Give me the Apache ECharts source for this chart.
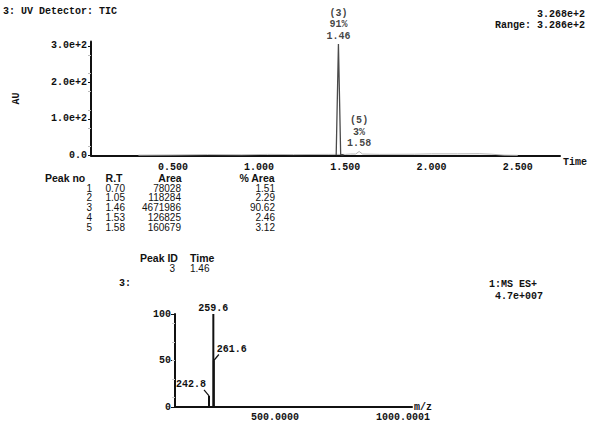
<!DOCTYPE html>
<html>
<head>
<meta charset="utf-8">
<script src="https://cdn.jsdelivr.net/npm/echarts@6/dist/echarts.min.js"></script>
<style>
  html, body { margin: 0; padding: 0; background: #fff; }
  #chart { width: 593px; height: 427px; }
</style>
</head>
<body>
<div id="chart"></div>
<script>
// ---- UV detector trace (TIC): retention time in min, response in AU ----
const traceTime = [0.30, 0.50, 0.70, 0.90, 1.05, 1.20, 1.40, 1.50, 1.53, 1.56, 1.58, 1.60, 1.70, 1.90, 2.00, 2.15, 2.28, 2.35, 2.42, 2.50];
const traceAU   = [1.0,  1.5,  2.5,  2.0,  3.0,  2.5,  3.0,  3.0,  4.0,  4.0,  11,   4.0,  3.0,  3.5,  4.5,  4.5,  5.0,  3.5,  1.0,  0.5];

// main peak outline around its apex
const mainPeakTime = [1.447, 1.46, 1.473, 1.49];
const mainPeakAU   = [1, 305, 2, 2];

// ---- integration table ----
const peakNo  = [1, 2, 3, 4, 5];
const peakRT  = ['0.70', '1.05', '1.46', '1.53', '1.58'];
const peakArea = [78028, 118284, 4671986, 126825, 160679];
const peakPct = ['1.51', '2.29', '90.62', '2.46', '3.12'];

// peaks annotated on the trace (index into the table)
const labelledPeaks = [2, 4];

// axis ticks
const uvTimeTicks = [0.5, 1.0, 1.5, 2.0, 2.5];
const uvAUTicks   = [0, 100, 200, 300];
const uvAUTickText = ['0.0', '1.0e+2', '2.0e+2', '3.0e+2'];

// ---- mass spectrum at peak 3 ----
const msMz  = [242.8, 259.6, 261.6];
const msRel = [12, 100, 50];
const msMzTicks = [500, 1000.0001];
const msMzTickText = ['500.0000', '1000.0001'];
const msRelTicks = [0, 50, 100];

const mono = '"Liberation Mono", "DejaVu Sans Mono", monospace';
const sans = '"Liberation Sans", Arial, sans-serif';
const ink = '#111';

const monoText = { fontFamily: mono, fontSize: 10, fontWeight: 'bold', color: ink };

// apex points carrying the peak annotations
const apexData = labelledPeaks.map(i => {
  const t = parseFloat(peakRT[i]);
  let au;
  const mi = mainPeakTime.indexOf(t);
  if (mi >= 0) au = mainPeakAU[mi];
  else au = traceAU[traceTime.indexOf(t)];
  return {
    value: [t, au],
    name: '(' + peakNo[i] + ')\n' + Math.round(parseFloat(peakPct[i])) + '%\n' + peakRT[i]
  };
});

// how each spectrum label sits relative to its stick top (leader = short guide stroke)
const msLabelStyle = {
  259.6: { side: 'top' },
  261.6: { side: 'right', lead: [5, -6], gap: [-2, -5] },
  242.8: { side: 'left', lead: [-5, -6], gap: [2, -5] }
};

const chart = echarts.init(document.getElementById('chart'), null, { renderer: 'svg' });

// table text elements
const tableEls = [];
const headY = 177.5, rowGap = 9.8, firstRowY = 188;
const cols = [
  { head: 'Peak no', headX: 45, headAlign: 'left', x: 92, vals: peakNo.map(String) },
  { head: 'R.T', headX: 114, headAlign: 'center', x: 125, vals: peakRT },
  { head: 'Area', headX: 170, headAlign: 'center', x: 181, vals: peakArea.map(String) },
  { head: '% Area', headX: 257, headAlign: 'center', x: 275, vals: peakPct }
];
cols.forEach(c => {
  tableEls.push({ type: 'text', x: c.headX, y: headY,
    style: { text: c.head, font: 'bold 10.5px ' + sans, fill: ink, align: c.headAlign, verticalAlign: 'middle' } });
  c.vals.forEach((v, r) => {
    tableEls.push({ type: 'text', x: c.x, y: firstRowY + r * rowGap,
      style: { text: v, font: '10px ' + sans, fill: ink, align: 'right', verticalAlign: 'middle' } });
  });
});

const idPeak = 2;
const textEls = [
  { type: 'text', x: 3, y: 11, style: { text: '3: UV Detector: TIC', font: 'bold 10px ' + mono, fill: ink, verticalAlign: 'middle' } },
  { type: 'text', x: 585, y: 14, style: { text: '3.268e+2', font: 'bold 10px ' + mono, fill: ink, align: 'right', verticalAlign: 'middle' } },
  { type: 'text', x: 585, y: 25, style: { text: 'Range: 3.286e+2', font: 'bold 10px ' + mono, fill: ink, align: 'right', verticalAlign: 'middle' } },
  { type: 'text', x: 140, y: 258, style: { text: 'Peak ID', font: 'bold 10.5px ' + sans, fill: ink, verticalAlign: 'middle' } },
  { type: 'text', x: 190, y: 258, style: { text: 'Time', font: 'bold 10.5px ' + sans, fill: ink, verticalAlign: 'middle' } },
  { type: 'text', x: 175, y: 268, style: { text: String(peakNo[idPeak]), font: '10px ' + sans, fill: ink, align: 'right', verticalAlign: 'middle' } },
  { type: 'text', x: 190, y: 268, style: { text: peakRT[idPeak], font: '10px ' + sans, fill: ink, verticalAlign: 'middle' } },
  { type: 'text', x: 119, y: 283, style: { text: '3:', font: 'bold 10px ' + mono, fill: ink, verticalAlign: 'middle' } },
  { type: 'text', x: 537, y: 284, style: { text: '1:MS ES+', font: 'bold 10px ' + mono, fill: ink, align: 'right', verticalAlign: 'middle' } },
  { type: 'text', x: 543, y: 296, style: { text: '4.7e+007', font: 'bold 10px ' + mono, fill: ink, align: 'right', verticalAlign: 'middle' } }
];

const option = {
  backgroundColor: '#fff',
  animation: false,
  grid: [
    { left: 91, right: 33, top: 41.5, height: 114 },
    { left: 175, right: 181, top: 314, height: 93 }
  ],
  xAxis: [
    {
      gridIndex: 0, type: 'value', min: 0.025, max: 2.745,
      name: 'Time', nameLocation: 'end', nameGap: 3,
      nameTextStyle: Object.assign({}, monoText, { verticalAlign: 'top', padding: [2, 0, 0, 0] }),
      axisLine: { lineStyle: { color: ink, width: 2 } },
      axisTick: { show: false },
      splitLine: { show: false },
      axisLabel: Object.assign({}, monoText, {
        margin: 7, customValues: uvTimeTicks,
        formatter: v => v.toFixed(3)
      })
    },
    {
      gridIndex: 1, type: 'value', min: 110, max: 1035,
      name: 'm/z', nameLocation: 'end', nameGap: 2,
      nameTextStyle: Object.assign({}, monoText, { padding: [0, 0, 6, 0] }),
      axisLine: { lineStyle: { color: ink, width: 2 } },
      axisTick: { show: false },
      splitLine: { show: false },
      axisLabel: Object.assign({}, monoText, {
        margin: 5, customValues: msMzTicks,
        formatter: v => msMzTickText[msMzTicks.indexOf(v)] || ''
      })
    }
  ],
  yAxis: [
    {
      gridIndex: 0, type: 'value', min: 0, max: 312,
      name: 'AU', nameLocation: 'middle', nameGap: 70,
      nameTextStyle: monoText,
      axisLine: { show: true, lineStyle: { color: ink, width: 2 } },
      axisTick: { show: true, length: 3, customValues: uvAUTicks, lineStyle: { color: ink } },
      minorTick: { show: true, splitNumber: 2, length: 3, lineStyle: { color: '#bbb' } },
      splitLine: { show: false },
      axisLabel: Object.assign({}, monoText, {
        margin: 4, customValues: uvAUTicks,
        formatter: v => uvAUTickText[uvAUTicks.indexOf(v)] || ''
      })
    },
    {
      gridIndex: 1, type: 'value', min: 0, max: 100,
      axisLine: { show: true, lineStyle: { color: ink, width: 2 } },
      axisTick: { show: true, length: 4, customValues: msRelTicks, lineStyle: { color: ink } },
      minorTick: { show: true, splitNumber: 2, length: 3, lineStyle: { color: '#ccc' } },
      splitLine: { show: false },
      axisLabel: Object.assign({}, monoText, {
        margin: 4, customValues: msRelTicks
      })
    }
  ],
  series: [
    {
      name: 'trace', type: 'line', xAxisIndex: 0, yAxisIndex: 0,
      data: traceTime.map((t, i) => [t, traceAU[i]]),
      symbol: 'none', lineStyle: { color: '#b5b5b5', width: 1 }, z: 2
    },
    {
      name: 'main peak', type: 'line', xAxisIndex: 0, yAxisIndex: 0,
      data: mainPeakTime.map((t, i) => [t, mainPeakAU[i]]),
      symbol: 'none', lineStyle: { color: '#4a4a4a', width: 1.3 }, z: 3
    },
    {
      name: 'peak labels', type: 'scatter', xAxisIndex: 0, yAxisIndex: 0,
      data: apexData, symbolSize: 0, z: 4,
      label: Object.assign({}, monoText, {
        show: true, position: 'top', distance: 2, lineHeight: 11.5,
        formatter: p => p.name
      })
    },
    {
      name: 'spectrum', type: 'bar', xAxisIndex: 1, yAxisIndex: 1,
      data: msMz.map((m, i) => [m, msRel[i]]),
      barWidth: 2, itemStyle: { color: ink }, z: 3
    }
  ],
  graphic: textEls.concat(tableEls)
};

chart.setOption(option);

// spectrum stick labels with their short guide strokes, placed at each stick top
const msEls = [];
msMz.forEach((m, i) => {
  const p = chart.convertToPixel({ gridIndex: 1 }, [m, msRel[i]]);
  const s = msLabelStyle[m];
  const txt = m.toFixed(1);
  if (s.side === 'top') {
    msEls.push({ type: 'text', x: p[0], y: p[1] - 1,
      style: { text: txt, font: 'bold 10px ' + mono, fill: ink, align: 'center', verticalAlign: 'bottom' } });
  } else {
    const end = [p[0] + s.lead[0], p[1] + s.lead[1]];
    msEls.push({ type: 'line', shape: { x1: p[0], y1: p[1], x2: end[0], y2: end[1] },
      style: { stroke: ink, lineWidth: 1.2 } });
    msEls.push({ type: 'text', x: end[0] + s.gap[0], y: end[1] + s.gap[1],
      style: { text: txt, font: 'bold 10px ' + mono, fill: ink,
        align: s.side === 'right' ? 'left' : 'right', verticalAlign: 'middle' } });
  }
});
chart.setOption({ graphic: textEls.concat(tableEls, msEls) });
</script>
</body>
</html>
